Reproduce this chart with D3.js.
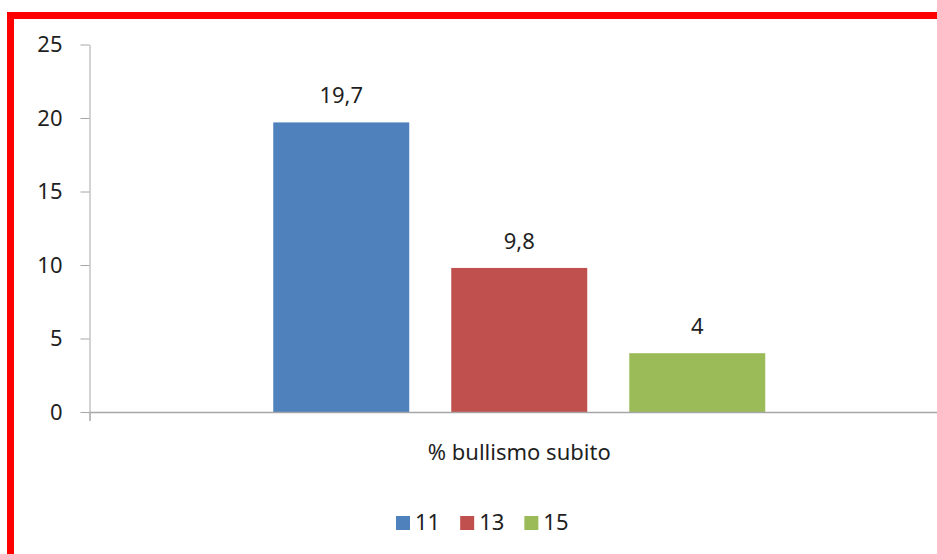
<!DOCTYPE html>
<html>
<head>
<meta charset="utf-8">
<script src="https://cdn.jsdelivr.net/npm/d3@7"></script>
<style>
  body { margin: 0; background: #fff; }
  svg { display: block; font-family: "Noto Sans", sans-serif; }
  .axis path, .axis line { stroke: #a6a6a6; }
  .axis text { fill: #1f1f1f; font-size: 22px; font-family: "Noto Sans", sans-serif; }
</style>
</head>
<body>
<div id="chart"></div>
<script>
// Chart data
const categories = ["% bullismo subito"];
const series = ["11", "13", "15"];
const values = [19.7, 9.8, 4];
const colors = ["#4f81bd", "#c0504d", "#9bbb59"];
const yTicks = [0, 5, 10, 15, 20, 25];

const WIDTH = 937, HEIGHT = 554;

const svg = d3.select("#chart").append("svg")
  .attr("width", WIDTH)
  .attr("height", HEIGHT);

// red frame (only top and left edges visible in the picture)
svg.append("rect")
  .attr("x", 10.5).attr("y", 15.5)
  .attr("width", 1200).attr("height", 1200)
  .attr("fill", "none")
  .attr("stroke", "#ff0000")
  .attr("stroke-width", 7);

// scales
const y = d3.scaleLinear().domain([0, 25]).range([412, 44.5]);
const x0 = d3.scaleBand().domain(categories).range([89.5, 949]);
const groupW = 492;
const x1 = d3.scaleBand().domain(series)
  .range([x0.bandwidth() / 2 - groupW / 2, x0.bandwidth() / 2 + groupW / 2])
  .paddingInner(0.236);

// y axis
const yAxisCall = d3.axisLeft(y).tickValues(yTicks).tickSizeInner(9).tickSizeOuter(0).tickPadding(18);
svg.append("g")
  .attr("class", "axis y-axis")
  .attr("transform", "translate(89.5,0)")
  .call(yAxisCall)
  .call(g => g.selectAll("text").attr("dy", "0.34em"));

// bars
const bars = svg.append("g")
  .selectAll("rect")
  .data(series.map((s, i) => ({ cat: categories[0], s: s, v: values[i], c: colors[i] })))
  .enter();

bars.append("rect")
  .attr("x", d => x0(d.cat) + x1(d.s))
  .attr("y", d => y(d.v))
  .attr("width", x1.bandwidth())
  .attr("height", d => y(0) - y(d.v))
  .attr("fill", d => d.c);

// value labels with comma decimals
bars.append("text")
  .attr("x", d => x0(d.cat) + x1(d.s) + x1.bandwidth() / 2)
  .attr("y", d => y(d.v) - 19)
  .attr("text-anchor", "middle")
  .attr("font-size", 22)
  .attr("fill", "#1f1f1f")
  .text(d => String(d.v).replace(".", ","));

// x axis
const xAxisCall = d3.axisBottom(x0).tickSizeInner(0).tickSizeOuter(9).tickPadding(32);
svg.append("g")
  .attr("class", "axis x-axis")
  .attr("transform", "translate(0," + y(0) + ")")
  .call(xAxisCall)
  .call(g => g.select(".domain").attr("stroke-width", 1.5));

// legend
const legend = svg.append("g").attr("transform", "translate(396,516)");
let lx = 0;
series.forEach((s, i) => {
  const item = legend.append("g").attr("transform", "translate(" + lx + ",0)");
  item.append("rect")
    .attr("width", 14).attr("height", 14)
    .attr("fill", colors[i]);
  const t = item.append("text")
    .attr("x", 19).attr("y", 14)
    .attr("font-size", 22)
    .attr("fill", "#1f1f1f")
    .text(s);
  lx += 19 + t.node().getComputedTextLength() + 20;
});
</script>
</body>
</html>
